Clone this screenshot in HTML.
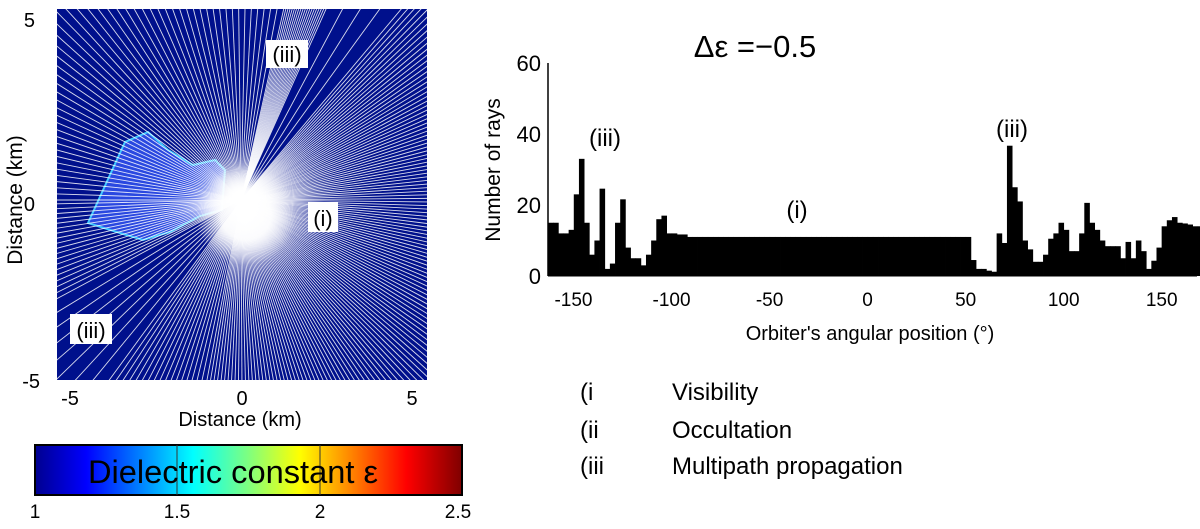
<!DOCTYPE html>
<html><head><meta charset="utf-8"><style>
html,body{margin:0;padding:0;background:#fff;overflow:hidden;}
body{width:1200px;height:529px;overflow:hidden;position:relative;font-family:"Liberation Sans",sans-serif;}
svg{position:absolute;left:0;top:0;display:block;overflow:hidden;}
</style></head><body>
<svg id="fig" width="1200" height="529" viewBox="0 0 1200 529">
<defs>
<linearGradient id="jet" x1="0" x2="1" y1="0" y2="0">
<stop offset="0" stop-color="#00008f"/><stop offset="0.12" stop-color="#0000ff"/>
<stop offset="0.37" stop-color="#00ffff"/><stop offset="0.5" stop-color="#7fff7f"/>
<stop offset="0.62" stop-color="#ffff00"/><stop offset="0.87" stop-color="#ff0000"/>
<stop offset="1" stop-color="#7f0000"/></linearGradient>
<radialGradient id="glow"><stop offset="0" stop-color="#fff" stop-opacity="1"/><stop offset="0.5" stop-color="#fff" stop-opacity="0.9"/><stop offset="1" stop-color="#fff" stop-opacity="0"/></radialGradient>
<clipPath id="mapclip"><rect x="57" y="9" width="370" height="371"/></clipPath>
</defs>
<g>
<rect x="57" y="9" width="370" height="371" fill="#00108c"/>
<polygon points="88,223 125,142 148,132 168,150 193,165 215,160 225,170 222,210 200,216 170,232 143,240 120,233" fill="#2a48e0" stroke="#40c8ff" stroke-width="2"/>
<g id="rays" clip-path="url(#mapclip)"></g>
<rect x="266" y="40" width="42" height="28" fill="#fff"/>
<text x="287" y="62" font-size="22" text-anchor="middle">(iii)</text>
<rect x="308" y="202" width="30" height="30" fill="#fff"/>
<text x="323" y="226" font-size="22" text-anchor="middle">(i)</text>
<rect x="70" y="314" width="42" height="30" fill="#fff"/>
<text x="91" y="338" font-size="22" text-anchor="middle">(iii)</text>
<g font-size="20" text-anchor="middle">
<text x="35" y="27" text-anchor="end">5</text><text x="35" y="211" text-anchor="end">0</text><text x="40" y="388" text-anchor="end">-5</text>
<text x="70" y="405">-5</text><text x="242" y="405">0</text><text x="412" y="405">5</text>
</g>
<text x="240" y="426" font-size="20" text-anchor="middle">Distance (km)</text>
<text transform="translate(22,200) rotate(-90)" font-size="21" text-anchor="middle">Distance (km)</text>
</g>
<g>
<rect x="35" y="445" width="427" height="50" fill="url(#jet)" stroke="#000" stroke-width="2"/>
<line x1="177" y1="445" x2="177" y2="495" stroke="#333" stroke-width="1"/>
<line x1="320" y1="445" x2="320" y2="495" stroke="#333" stroke-width="1"/>
<text x="88" y="483" font-size="32" textLength="290" lengthAdjust="spacingAndGlyphs">Dielectric constant ε</text>
<g font-size="19" text-anchor="middle">
<text x="35" y="518">1</text><text x="177" y="518">1.5</text><text x="320" y="518">2</text><text x="458" y="518">2.5</text></g>
</g>
<g id="hist">
<text x="755" y="57" font-size="31" text-anchor="middle">Δε =−0.5</text>
<g id="bars"></g>
<line x1="548" y1="63" x2="548" y2="276" stroke="#000" stroke-width="1.5"/>
<line x1="548" y1="276" x2="1197" y2="276" stroke="#000" stroke-width="1"/>
<g id="yticks" font-size="22" text-anchor="end"></g>
<g id="xticks" font-size="19" text-anchor="middle"></g>
<text transform="translate(500,170) rotate(-90)" font-size="21" text-anchor="middle">Number of rays</text>
<text x="870" y="340" font-size="20" text-anchor="middle">Orbiter's angular position (°)</text>
<text x="605" y="146" font-size="24" text-anchor="middle">(iii)</text>
<text x="1012" y="137" font-size="24" text-anchor="middle">(iii)</text>
<text x="797" y="218" font-size="24" text-anchor="middle">(i)</text>
</g>
<g font-size="24">
<text x="580" y="400">(i</text><text x="672" y="400">Visibility</text>
<text x="580" y="438">(ii</text><text x="672" y="438">Occultation</text>
<text x="580" y="474">(iii</text><text x="672" y="474">Multipath propagation</text>
</g>
</svg>
<script>
const binStart = -163;
const binWidth = 2.63;
const rayCounts = [15,15,12,12,13,23,33,15,6,10,24.6,2,3.5,15,21.6,8,5,5,3,6,10,16,17,12,12,11.7,11.7,
11,11,11,11,11,11,11,11,11,11,11,11,11,11,11,11,11,11,11,11,11,11,11,11,11,11,11,11,11,11,11,11,11,11,11,11,11,11,11,11,11,11,11,11,11,11,11,11,11,11,11,11,11,11,11,
4.5,2,2,1.5,1.2,12,9.3,36.7,25,21,10,7.5,4,4,6,10.5,12,15,13,7,7,12,20.6,15,13,10,8.4,8.4,8.4,5,9.6,5,10,7,2,4.3,8,14,15.7,16.6,15,14.8,14.5,14,14,7];
const yTickValues = [0,20,40,60];
const xTickValues = [-150,-100,-50,0,50,100,150];
const NS='http://www.w3.org/2000/svg';
const X0=548,X1=1197,D0=-163,D1=168,Y0=276,Y1=63,V1=60;
function xs(d){return X0+(d-D0)*(X1-X0)/(D1-D0);}
function ys(v){return Y0-(v/V1)*(Y0-Y1);}
const bars=document.getElementById('bars');
rayCounts.forEach((v,i)=>{
  const a=binStart+i*binWidth, x=xs(a), w=xs(a+binWidth)-x;
  const r=document.createElementNS(NS,'rect');
  r.setAttribute('x',x);r.setAttribute('y',ys(v));r.setAttribute('width',w+0.4);r.setAttribute('height',Y0-ys(v));r.setAttribute('fill','#000');
  
  
  bars.appendChild(r);
});
const yt=document.getElementById('yticks');
yTickValues.forEach(v=>{
  const t=document.createElementNS(NS,'text');
  t.setAttribute('x',541);t.setAttribute('y',ys(v)+8);t.textContent=v;
  
  
  yt.appendChild(t);
});
const xt=document.getElementById('xticks');
xTickValues.forEach(v=>{
  const t=document.createElementNS(NS,'text');
  t.setAttribute('x',xs(v));t.setAttribute('y',306);t.textContent=v;
  
  
  xt.appendChild(t);
});
// decorative rays (SVG orientation, degrees; y downward)
const rays=document.getElementById('rays');
const cx=241,cy=200;
function stepFor(a){
  if(a>=-78&&a<-66) return 0.6;
  if(a>=-66&&a<-52) return 4;
  if(a>=-52&&a<100) return 1.1;
  if(a>=100&&a<125) return 1.5;
  if(a>=125&&a<150) return 3.2;
  if(a>=150&&a<215) return 1.5;
  return 1.9;
}
let a=-180;
while(a<180){
  const ang=a*Math.PI/180;
  const l=document.createElementNS(NS,'line');
  l.setAttribute('x1',cx);l.setAttribute('y1',cy);
  l.setAttribute('x2',cx+290*Math.cos(ang));l.setAttribute('y2',cy+290*Math.sin(ang));
  l.setAttribute('stroke','#fff');l.setAttribute('stroke-width',0.9);l.setAttribute('stroke-opacity',0.85);
  
  
  rays.appendChild(l);
  a+=stepFor(a);
}
const blob=document.createElementNS(NS,'ellipse');
blob.setAttribute('cx',cx+5);blob.setAttribute('cy',cy+15);blob.setAttribute('rx',50);blob.setAttribute('ry',50);blob.setAttribute('fill','url(#glow)');


rays.appendChild(blob);
</script>
</body></html>
